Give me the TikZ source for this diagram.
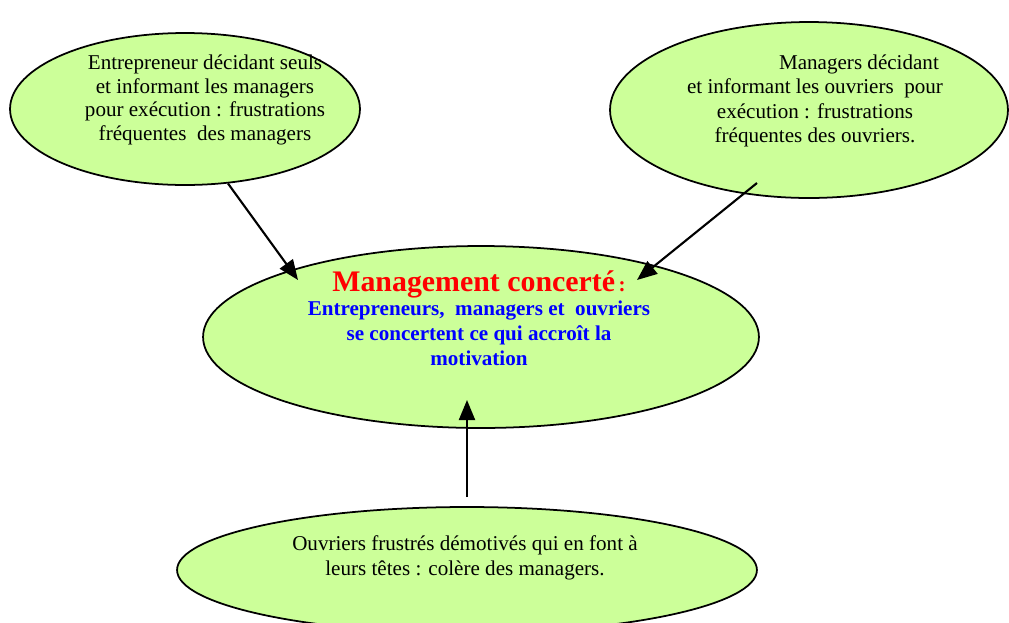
\documentclass[tikz,border=0pt]{standalone}
\usepackage{fontspec}
\setmainfont{Liberation Serif}
\usetikzlibrary{shapes.geometric}
\usetikzlibrary{arrows.meta}

\definecolor{bulle}{RGB}{204,255,153}

\begin{document}
\begin{tikzpicture}[x=0.02cm, y=-0.02cm,
    bulle/.style={ellipse, draw=black, line width=1pt, fill=bulle, inner sep=0pt},
    txt/.style={align=center, font=\fontsize{12}{13.5}\selectfont},
    fleche/.style={line width=1.2pt, -{Triangle[length=0.4cm, width=0.32cm]}}]
  % page frame
  \clip (0,0) rectangle (1009,623);

  % the four bubbles
  \node[bulle, minimum width=7cm, minimum height=3.04cm] (chef) at (185,109) {};
  \node[bulle, minimum width=7.96cm, minimum height=3.52cm] (cadres) at (809,110) {};
  \node[bulle, minimum width=11.12cm, minimum height=3.64cm] (concert) at (481,337) {};
  \node[bulle, minimum width=11.6cm, minimum height=2.52cm] (ouvriers) at (467,570) {};

  % texts
  \node[txt] (chefTxt) at (205,100) {Entrepreneur décidant seuls\\et informant les managers\\pour exécution : frustrations\\fréquentes \ des managers};
  \node[txt, font=\fontsize{12}{13.8}\selectfont] (cadresTxt) at (815,101) {\hspace*{1.76cm}Managers décidant\\et informant les ouvriers \ pour\\exécution : frustrations\\fréquentes des ouvriers.};
  \node[align=center, font=\bfseries\fontsize{12}{14}\selectfont, text=blue] (concertTxt) at (479,318) {%
    {\fontsize{17}{20}\selectfont\color{red}Management concerté}\,{\color{red}:}\\[0pt]
    Entrepreneurs, \ managers et \ ouvriers\\
    se concertent ce qui accroît la\\
    motivation};
  \node[txt, font=\fontsize{12}{14.2}\selectfont] (ouvriersTxt) at (465,558) {Ouvriers frustrés démotivés qui en font à\\leurs têtes : colère des managers.};

  % arrows into the central bubble
  \coordinate (departCadres) at (757,183);
  \coordinate (departOuvriers) at (467,497);
  \coordinate (finChef) at (298,280);
  \coordinate (finCadres) at (637,280);
  \coordinate (finOuvriers) at (467,400);
  \draw[fleche] (chef.-60.5) -- (finChef);
  \draw[fleche] (departCadres) -- (finCadres);
  \draw[fleche] (departOuvriers) -- (finOuvriers);
\end{tikzpicture}
\end{document}
